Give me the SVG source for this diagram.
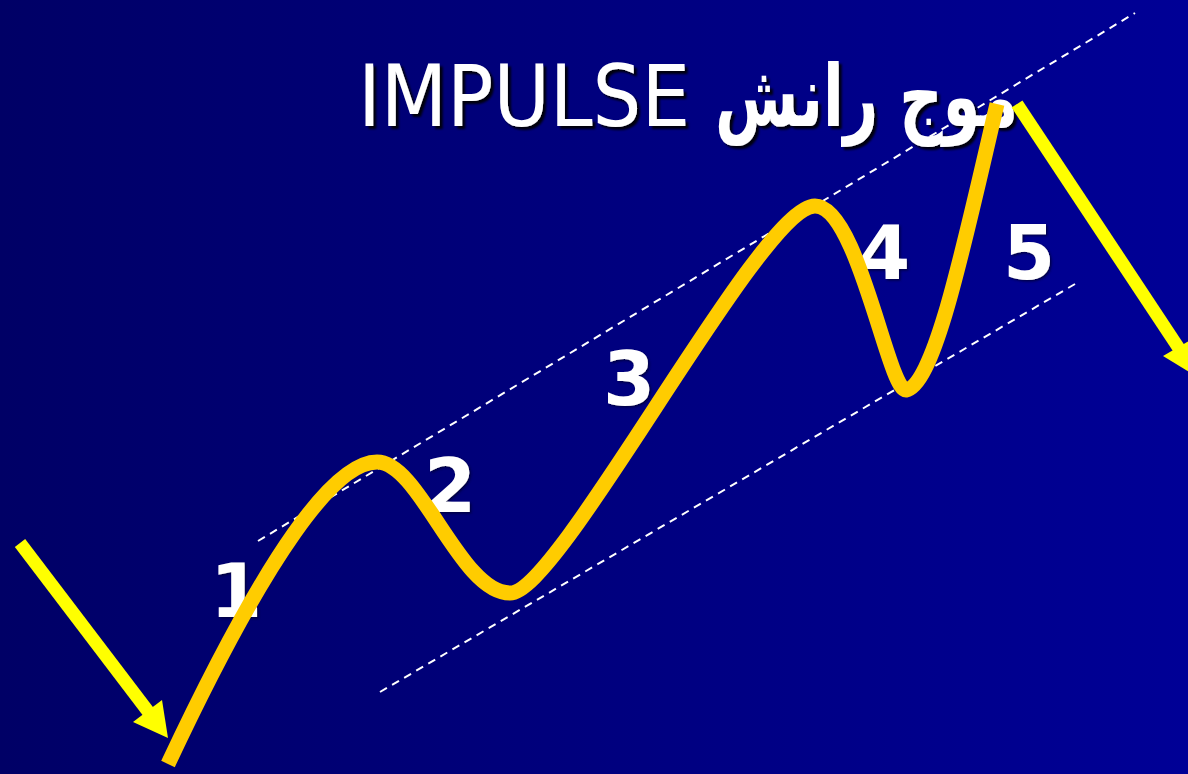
<svg xmlns="http://www.w3.org/2000/svg" width="1188" height="774" viewBox="0 0 1188 774">
  <defs>
    <linearGradient id="bg" x1="0" y1="0" x2="1" y2="0">
      <stop offset="0" stop-color="#000066"/>
      <stop offset="1" stop-color="#000096"/>
    </linearGradient>
    <filter id="shadow" x="-10%" y="-20%" width="120%" height="140%">
      <feDropShadow dx="3" dy="3" stdDeviation="1" flood-color="#000000" flood-opacity="0.9"/>
    </filter>
    <filter id="shadowSmall" x="-20%" y="-20%" width="140%" height="140%">
      <feDropShadow dx="1.5" dy="1.5" stdDeviation="0.8" flood-color="#000033" flood-opacity="0.8"/>
    </filter>
  </defs>
  <style>
    .title { fill: #ffffff; font-family: "DejaVu Sans", "Liberation Sans", sans-serif; font-size: 85px; }
    .num { fill: #ffffff; font-family: "DejaVu Sans", "Liberation Sans", sans-serif; font-size: 75px; font-weight: bold; text-anchor: middle; }
    .dash { stroke: #ffffff; stroke-width: 2; stroke-dasharray: 8 6; fill: none; }
    .wave { stroke: #ffcc00; stroke-width: 15; fill: none; stroke-linecap: butt; stroke-linejoin: round; }
    .arrow-shaft { stroke: #ffff00; stroke-width: 13; fill: none; }
    .arrow-head { fill: #ffff00; }
  </style>
  <rect x="0" y="0" width="1188" height="774" fill="url(#bg)"/>

  <g id="title" filter="url(#shadow)">
    <text class="title" x="358" y="126" textLength="332" lengthAdjust="spacingAndGlyphs">IMPULSE</text>
    <text class="title" x="715" y="126" font-size="100" font-weight="bold" textLength="303" lengthAdjust="spacingAndGlyphs">موج رانش</text>
  </g>

  <g id="channel">
    <line class="dash" x1="258" y1="541" x2="1135" y2="13"/>
    <line class="dash" x1="380" y1="692" x2="1075" y2="284"/>
  </g>

  <g id="labels" filter="url(#shadowSmall)">
    <text class="num" x="236" y="617">1</text>
    <text class="num" x="450" y="512">2</text>
    <text class="num" x="629" y="405">3</text>
    <text class="num" x="884" y="279">4</text>
    <text class="num" x="1029" y="279">5</text>
  </g>

  <g id="wave">
    <path class="wave" d="M168,764 C268,551 335,462 377,462 C420,462 460,593 510,593 C560,593 760,206 815,206 C858,206 888,390 906,390 C935,385 965,240 997,104"/>
  </g>

  <g id="connectors">
    <g id="arrow-in">
      <line class="arrow-shaft" x1="20" y1="543" x2="150" y2="714"/>
      <polygon class="arrow-head" points="168,738 133,722 162,700"/>
    </g>
    <g id="arrow-out">
      <line class="arrow-shaft" x1="1017" y1="104" x2="1180" y2="350"/>
      <polygon class="arrow-head" points="1196,376 1163,356 1194,338"/>
    </g>
  </g>
</svg>
